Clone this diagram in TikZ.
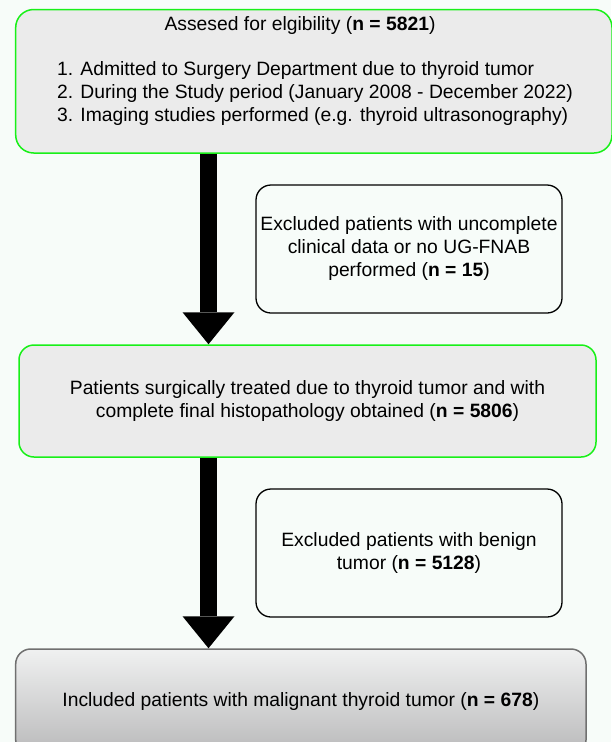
\documentclass[tikz,border=0pt]{standalone}
\usepackage{fontspec}
\setmainfont{Liberation Sans}
\usetikzlibrary{arrows.meta}

\definecolor{bgmint}{RGB}{247,252,249}
\definecolor{boxgray}{RGB}{235,235,235}
\definecolor{boxgreen}{RGB}{24,240,24}
\definecolor{framegray}{RGB}{112,112,112}
\definecolor{shadetop}{RGB}{240,241,241}
\definecolor{shadebottom}{RGB}{185,185,186}

\begin{document}
\begin{tikzpicture}[x=1pt,y=-1pt,line join=round,font=\fontsize{19.3}{23}\selectfont,
    greenbox/.style={draw=boxgreen,line width=1.5pt,fill=boxgray,rounded corners=15pt,inner sep=0pt,align=center},
    exclbox/.style={draw=black,line width=1.3pt,fill=bgmint,rounded corners=15pt,inner sep=0pt,align=center,
      minimum width=306pt,minimum height=128pt},
    finalbox/.style={draw=framegray,line width=1.5pt,top color=shadetop,bottom color=shadebottom,
      rounded corners=15pt,inner sep=0pt},
    bigarrow/.style={line width=17pt,line cap=butt,-{Triangle[width=52pt,length=32pt,line width=0pt]}}]

  % ---- fondo e cornice -----------------------------------------------------
  \fill[bgmint] (0,0) rectangle (611,742);
  \useasboundingbox (0,0) rectangle (611,742);

  % ---- pazienti valutati ---------------------------------------------------
  \node[greenbox,rounded corners=18pt,minimum width=596.3pt,minimum height=143.5pt] (assessed) at (313.85,81.25) {};
  \node[inner sep=0pt] (assessedtitle) at (300,26) {Assesed for elgibility (\textbf{n = 5821})};
  \node[inner sep=0pt,align=left] (criteria) at (315,94)
    {1. Admitted to Surgery Department due to thyroid tumor\\
     2. During the Study period (January 2008 - December 2022)\\
     3. Imaging studies performed (e.g. thyroid ultrasonography)};

  % ---- primo gruppo di esclusi ---------------------------------------------
  \node[exclbox] (nodata) at (409,249)
    {Excluded patients with uncomplete\\clinical data or no UG-FNAB\\performed (\textbf{n = 15})};

  % ---- pazienti operati ----------------------------------------------------
  \node[greenbox,minimum width=577pt,minimum height=112pt] (treated) at (307.5,401)
    {Patients surgically treated due to thyroid tumor and with\\
     complete final histopathology obtained (\textbf{n = 5806})};

  % ---- secondo gruppo di esclusi -------------------------------------------
  \node[exclbox] (benign) at (409,553)
    {Excluded patients with benign\\tumor (\textbf{n = 5128})};

  % ---- pazienti inclusi (il riquadro esce dal bordo) -----------------------
  \node[finalbox,minimum width=570.3pt,minimum height=106pt] (included) at (300.85,702)
    {Included patients with malignant thyroid tumor (\textbf{n = 678})};

  % ---- le frecce -----------------------------------------------------------
  \coordinate (axis) at (208.5,0);
  \draw[bigarrow] (assessed.south -| axis) -- (treated.north -| axis);
  \draw[bigarrow] (treated.south -| axis) -- (included.north -| axis);

\end{tikzpicture}
\end{document}
